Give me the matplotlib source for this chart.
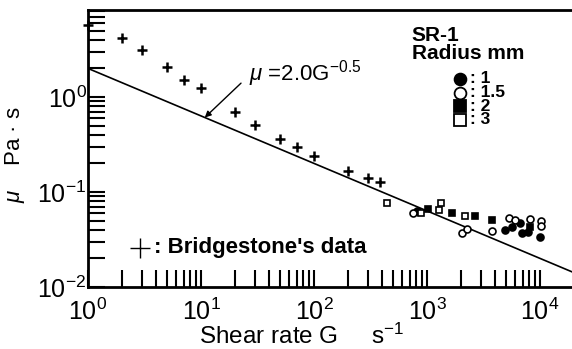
import matplotlib
matplotlib.use("Agg")
import matplotlib.pyplot as plt
import numpy as np

plt.rcParams['font.family'] = ['Liberation Sans', 'DejaVu Sans']
plt.rcParams['mathtext.fontset'] = 'custom'
plt.rcParams['mathtext.rm'] = 'Liberation Sans'
plt.rcParams['mathtext.it'] = 'Liberation Sans:italic'
plt.rcParams['mathtext.bf'] = 'Liberation Sans:bold'

# Bridgestone's data (+)
bs_G = [1, 2, 3, 5, 7, 10, 20, 30, 50, 70, 100, 200, 300, 380]
bs_mu = [5.7, 4.2, 3.1, 2.07, 1.51, 1.24, 0.695, 0.507, 0.361, 0.298, 0.239, 0.166, 0.140, 0.127]

# SR-1, radius 1 mm (filled circle)
r1_G = [816, 4900, 5650, 6650, 6930, 7830, 10000]
r1_mu = [0.0631, 0.0398, 0.0428, 0.0472, 0.0370, 0.0379, 0.0336]
# radius 1.5 mm (open circle)
r15_G = [752, 2041, 2259, 3760, 5320, 6010, 8160, 10200, 10200]
r15_mu = [0.0601, 0.0370, 0.0408, 0.0388, 0.0532, 0.0507, 0.0520, 0.0496, 0.0438]
# radius 2 mm (filled square)
r2_G = [1020, 1664, 2660, 3760, 8160]
r2_mu = [0.0662, 0.0601, 0.0558, 0.0507, 0.0428]
# radius 3 mm (open square)
r3_G = [443, 885, 1277, 1330, 2170]
r3_mu = [0.0766, 0.0601, 0.0647, 0.0766, 0.0558]

# mu = A * G^n
fit_A = 2.0
fit_n = -0.5
fit_G = np.array([1.0, 2.0e4])

legend_labels = [": 1", ": 1.5", ": 2", ": 3"]

fig = plt.figure(figsize=(5.72, 3.49), dpi=100)
ax = fig.add_axes([88/572, 62/349, 484/572, 277/349])
ax.set_xscale('log')
ax.set_yscale('log')
ax.set_xlim(1, 10**4.283)
ax.set_ylim(0.01, 10**0.916)

ax.plot(fit_G, fit_A * fit_G**fit_n, color='k', lw=1.2)
ax.plot(bs_G, bs_mu, ls='none', marker='+', ms=7.5, mew=1.8, color='k', clip_on=False)

ms = 5
ax.plot(r1_G, r1_mu, ls='none', marker='o', ms=ms, mfc='k', mec='k', mew=1.2)
ax.plot(r15_G, r15_mu, ls='none', marker='o', ms=ms, mfc='white', mec='k', mew=1.2)
ax.plot(r2_G, r2_mu, ls='none', marker='s', ms=ms, mfc='k', mec='k', mew=1.2)
ax.plot(r3_G, r3_mu, ls='none', marker='s', ms=ms, mfc='white', mec='k', mew=1.2)

# equation label with arrow
ax.annotate("", xy=(10.8, 0.608), xytext=(22.6, 1.40),
            arrowprops=dict(arrowstyle='-|>', color='k', lw=1.0,
                            mutation_scale=9, shrinkA=0, shrinkB=0))
ax.text(26.5, 1.5, r"$\mu$ =2.0G$^{-0.5}$", fontsize=16, ha='left', va='baseline')

# SR-1 legend
ax.text(0.669, 0.908, "SR-1", transform=ax.transAxes, fontsize=15,
        fontweight='bold', ha='left', va='center')
ax.text(0.669, 0.843, "Radius mm", transform=ax.transAxes, fontsize=15,
        fontweight='bold', ha='left', va='center')
styles = [('o', 'k'), ('o', 'white'), ('s', 'k'), ('s', 'white')]
for i, (lab, (mk, fc)) in enumerate(zip(legend_labels, styles)):
    yy = 0.751 - i * 0.049
    ax.plot([0.769], [yy], transform=ax.transAxes, marker=mk, ms=8.5,
            mfc=fc, mec='k', mew=1.3, ls='none', clip_on=False)
    ax.text(0.789, yy, lab, transform=ax.transAxes, fontsize=12.5,
            fontweight='bold', ha='left', va='center')

# Bridgestone legend
ax.plot([0.107], [0.141], transform=ax.transAxes, marker='+', ms=15, mew=1.0,
        color='k', ls='none')
ax.text(0.137, 0.141, ": Bridgestone's data", transform=ax.transAxes,
        fontsize=16, fontweight='bold', ha='left', va='center')

ax.spines['right'].set_visible(False)
for s in ['left', 'bottom', 'top']:
    ax.spines[s].set_linewidth(2)

ax.tick_params(which='both', direction='in', top=False, right=False,
               width=1.5, color='k')
ax.tick_params(which='major', length=12, labelsize=18)
ax.tick_params(which='minor', length=12)
ax.tick_params(axis='y', which='both', pad=1)
ax.tick_params(axis='x', which='both', pad=8.5)
ax.set_xticks([1, 10, 100, 1000, 10000])
ax.set_yticks([0.01, 0.1, 1])

ax.set_xlabel(r"Shear rate G     s$^{-1}$", fontsize=17.5)
ax.xaxis.set_label_coords(0.442, -0.133)
ax.set_ylabel(r"$\mu$    Pa · s", fontsize=16)
ax.yaxis.set_label_coords(-0.125, 0.477)

fig.savefig("out.png", dpi=100)
